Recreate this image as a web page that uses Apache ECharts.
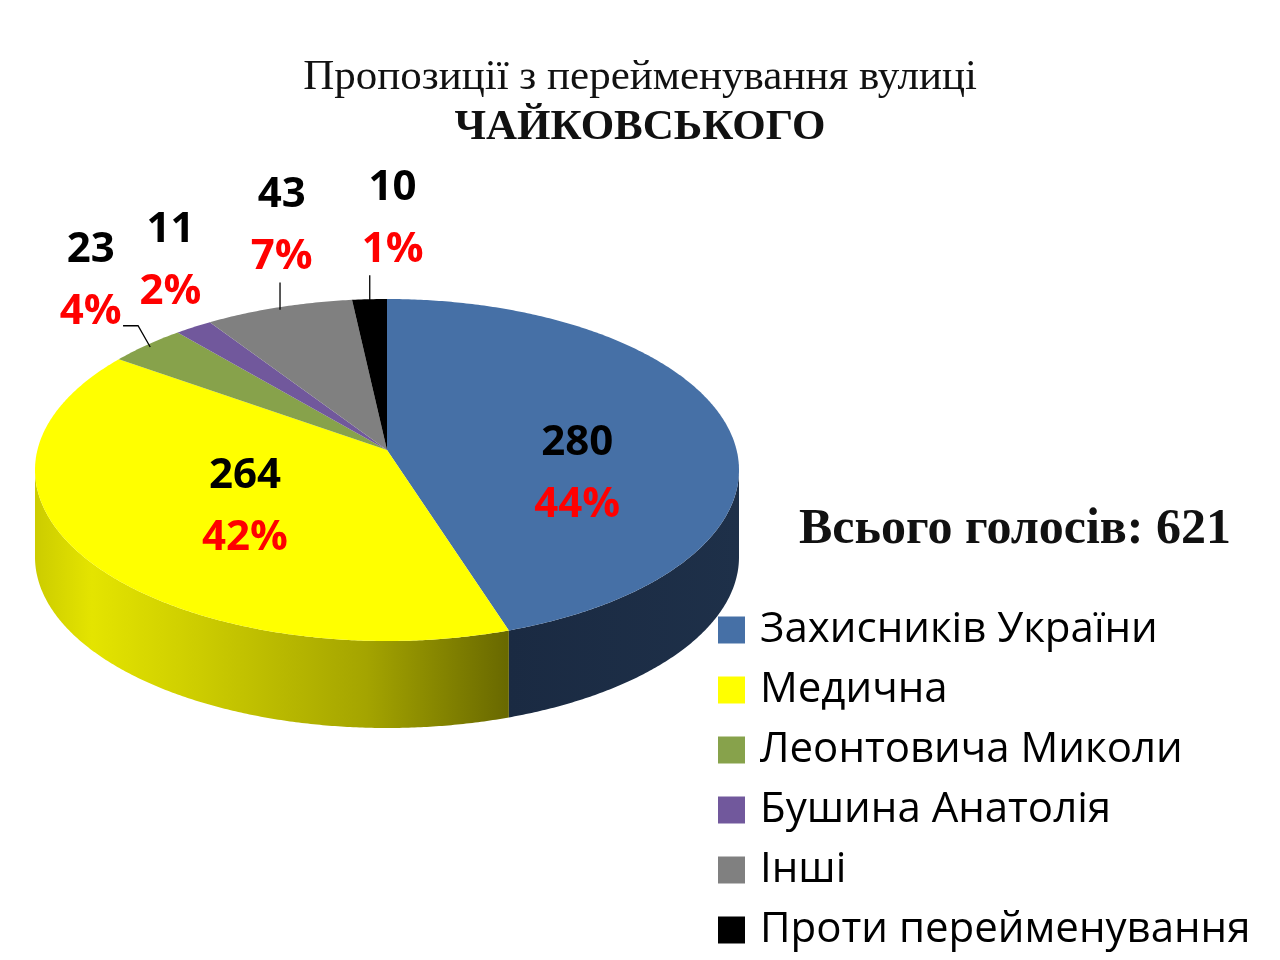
<!DOCTYPE html>
<html>
<head>
<meta charset="utf-8">
<script src="https://cdn.jsdelivr.net/npm/echarts@6/dist/echarts.min.js"></script>
<style>
html,body{margin:0;padding:0;background:#fff;}
#chart{width:1280px;height:960px;}
</style>
</head>
<body>
<div id="chart"></div>
<script>
// ---------- data ----------
const categories = ['Захисників України', 'Медична', 'Леонтовича Миколи', 'Бушина Анатолія', 'Інші', 'Проти перейменування'];
const votes = [280, 264, 23, 11, 43, 10];
const percentLabels = ['44%', '42%', '4%', '2%', '7%', '1%'];
const totalVotes = 621;
const titleLine1 = 'Пропозиції з перейменування вулиці';
const titleLine2 = 'ЧАЙКОВСЬКОГО';
const totalText = 'Всього голосів: ' + totalVotes;

// ---------- style ----------
const colors = ['#4670a6', '#ffff00', '#87a24b', '#71589c', '#808080', '#000000'];
const sideFills = [
  {type:'linear', x:0, y:0, x2:1, y2:0, colorStops:[{offset:0,color:'#1a2a42'},{offset:1,color:'#1e3049'}]},
  {type:'linear', x:0, y:0, x2:1, y2:0, colorStops:[
    {offset:0,color:'#cccc00'},{offset:0.12,color:'#e4e400'},{offset:0.35,color:'#cccc00'},
    {offset:0.7,color:'#a4a400'},{offset:1,color:'#686800'}]},
  '#5f7434', '#4e3d6e', '#595959', '#000'
];
// pie geometry (3-D look)
const G = {cx: 387, cy: 470, rx: 352, ry: 171, apexDy: -20, depth: 87};
const labelFont = 'bold 42px "Open Sans", "Noto Sans", sans-serif';
const insideFrac = 0.52;
const outerRx = 390, outerRy = 255;
// label nudges (like label.offset)
const labelNudge = [[10, 20], [8, -14], [-30, -3], [-2, 4], [15, -1], [25, 4]];

const sum = votes.reduce((a, b) => a + b, 0);
const startAng = [];
let acc = 0;
votes.forEach(v => { startAng.push(acc); acc += v / sum * 360; });
const sweep = votes.map(v => v / sum * 360);

function P(deg, dy, k) {
  k = k || 1; dy = dy || 0;
  const r = deg * Math.PI / 180;
  return [G.cx + G.rx * k * Math.sin(r), G.cy - G.ry * k * Math.cos(r) + dy];
}

function makeRender(i) {
  return function (params, api) {
    const value = api.value(0);
    const a0 = startAng[i], a1 = a0 + sweep[i];
    const children = [];
    // side wall (front half only)
    const s0 = Math.max(a0, 90), s1 = Math.min(a1, 270);
    if (s1 > s0) {
      const pts = [];
      for (let a = s0; a < s1; a += 0.5) pts.push(P(a));
      pts.push(P(s1));
      for (let a = s1; a > s0; a -= 0.5) pts.push(P(a, G.depth));
      pts.push(P(s0, G.depth));
      children.push({type: 'polygon', shape: {points: pts}, style: {fill: sideFills[i]}});
    }
    // top face
    const top = [[G.cx, G.cy + G.apexDy]];
    for (let a = a0; a < a1; a += 0.5) top.push(P(a));
    top.push(P(a1));
    children.push({type: 'polygon', shape: {points: top}, style: {fill: colors[i]}});

    // labels
    const mid = a0 + sweep[i] / 2;
    const rad = mid * Math.PI / 180;
    const inside = sweep[i] > 60;
    let lx, ly;
    if (inside) {
      lx = G.cx + G.rx * insideFrac * Math.sin(rad);
      ly = G.cy - G.ry * insideFrac * Math.cos(rad);
    } else {
      lx = G.cx + outerRx * Math.sin(rad);
      ly = G.cy - outerRy * Math.cos(rad);
    }
    lx += labelNudge[i][0]; ly += labelNudge[i][1];
    const numY = ly - 31, pctY = ly + 31;
    children.push({type: 'text', x: lx, y: numY, z2: 10,
      style: {text: String(value), font: labelFont, fill: '#000', align: 'center', verticalAlign: 'middle'}});
    children.push({type: 'text', x: lx, y: pctY, z2: 10,
      style: {text: percentLabels[i], font: labelFont, fill: '#ff0000', align: 'center', verticalAlign: 'middle'}});
    if (!inside) {
      const edge = P(mid, 0, 0.985);
      const w = percentLabels[i].length * 0.7 * 42;
      const right = lx + w / 2, left = lx - w / 2;
      let line = null;
      if (edge[0] > right + 4) {
        line = [[right + 3, pctY + 14], [right + 18, pctY + 14], edge];
      } else {
        const sx = Math.min(Math.max(edge[0], left), right);
        const sy = pctY + 25;
        if (edge[1] - sy > 18) line = [[sx, sy], [sx, edge[1]]];
      }
      if (line) children.push({type: 'polyline', shape: {points: line}, z2: 9,
        style: {stroke: '#000', lineWidth: 1.3, fill: null}});
    }
    return {type: 'group', children: children};
  };
}

const series = categories.map((name, i) => ({
  name: name,
  type: 'custom',
  coordinateSystem: 'none',
  itemStyle: {color: colors[i]},
  renderItem: makeRender(i),
  data: [votes[i]],
  silent: true,
  animation: false
}));

const chart = echarts.init(document.getElementById('chart'));
chart.setOption({
  backgroundColor: '#ffffff',
  animation: false,
  title: {
    text: '{a|' + titleLine1 + '}\n{b|' + titleLine2 + '}',
    left: 'center',
    top: 53,
    padding: [0, 0, 0, 10],
    textStyle: {
      fontWeight: 'normal',
      rich: {
        a: {fontFamily: '"Liberation Serif", "DejaVu Serif", serif', fontSize: 43, fontWeight: 'normal', color: '#111', lineHeight: 50},
        b: {fontFamily: '"Liberation Serif", "DejaVu Serif", serif', fontSize: 43, fontWeight: 'bold', color: '#111', lineHeight: 50}
      }
    }
  },
  legend: {
    orient: 'vertical',
    left: 718,
    top: 609,
    height: 350,
    padding: 0,
    itemWidth: 27,
    itemHeight: 27,
    itemGap: 18,
    icon: 'rect',
    selectedMode: false,
    data: categories,
    textStyle: {fontFamily: '"Open Sans", "Noto Sans", sans-serif', fontSize: 42, lineHeight: 42, color: '#000', padding: [0, 0, 0, 10]}
  },
  graphic: [{
    type: 'text',
    x: 1015, y: 530,
    style: {text: totalText, font: 'bold 50px "Liberation Serif", "DejaVu Serif", serif', fill: '#111', align: 'center', verticalAlign: 'middle'}
  }],
  series: series
});
</script>
</body>
</html>
